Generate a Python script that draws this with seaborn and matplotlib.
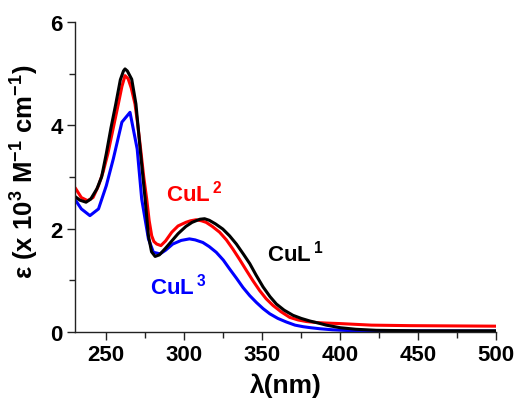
import numpy as np
import pandas as pd
import matplotlib
matplotlib.use("Agg")
import matplotlib.pyplot as plt
import seaborn as sns
from matplotlib.ticker import MultipleLocator

# ── Data ───────────────────────────────────────────────────────────────────
wl_cul1 = [230, 233, 237, 240, 244, 247, 250, 253, 256, 259, 261, 262, 263.5, 266.3,
           269, 271.7, 274.9, 277, 279, 281.3, 284, 288, 292, 296, 301, 305, 310,
           313, 316, 320, 324.7, 329, 333.4, 338, 342, 346, 350.5, 355, 359, 364,
           369.7, 375, 380.5, 386, 391, 400, 410, 423, 450, 500]
eps_cul1 = [2.62, 2.55, 2.51, 2.57, 2.77, 3.00, 3.45, 3.95, 4.40, 4.88, 5.05, 5.09,
            5.05, 4.89, 4.41, 3.54, 2.57, 1.86, 1.55, 1.46, 1.49, 1.62, 1.76, 1.90,
            2.04, 2.12, 2.18, 2.19, 2.16, 2.09, 1.99, 1.86, 1.70, 1.50, 1.32, 1.10,
            0.87, 0.68, 0.54, 0.42, 0.32, 0.26, 0.21, 0.17, 0.13, 0.08, 0.05, 0.03,
            0.02, 0.02]

wl_cul2 = [230, 234, 238, 241.5, 245, 248, 251, 254, 257.7, 260, 262, 264, 266,
           268.4, 270, 272, 274, 275.9, 277.5, 279.1, 280.5, 282.3, 285, 288, 292,
           296, 301, 304, 307.6, 311, 314, 318, 322.6, 327, 331.2, 335.5, 339.8,
           344, 348.3, 352.5, 356.9, 362, 367.6, 373, 378.3, 385, 391, 400, 420,
           445, 500]
eps_cul2 = [2.79, 2.60, 2.54, 2.60, 2.83, 3.10, 3.45, 3.88, 4.41, 4.75, 4.96, 4.90,
            4.72, 4.41, 4.05, 3.54, 3.00, 2.57, 2.15, 1.86, 1.75, 1.70, 1.67, 1.76,
            1.93, 2.05, 2.12, 2.15, 2.17, 2.15, 2.12, 2.04, 1.93, 1.78, 1.60, 1.40,
            1.19, 0.99, 0.80, 0.64, 0.51, 0.39, 0.28, 0.23, 0.20, 0.18, 0.17, 0.16,
            0.13, 0.12, 0.11]

wl_cul3 = [230, 234, 239.5, 245, 250, 254.5, 260, 265.2, 269.8, 272.7, 277, 280.2,
           284.5, 288, 292.6, 298, 303.3, 307, 311.9, 316, 320.5, 325, 329, 333.4,
           337.6, 342, 346.2, 350.5, 354.8, 360, 365.5, 371, 376.2, 381, 387, 395,
           405, 430, 500]
eps_cul3 = [2.56, 2.38, 2.25, 2.38, 2.83, 3.35, 4.06, 4.25, 3.54, 2.57, 1.80, 1.54,
            1.51, 1.58, 1.70, 1.77, 1.80, 1.78, 1.73, 1.65, 1.54, 1.39, 1.22, 1.04,
            0.86, 0.70, 0.57, 0.45, 0.35, 0.26, 0.19, 0.13, 0.10, 0.08, 0.06, 0.04,
            0.025, 0.02, 0.015]

names = ["CuL1", "CuL2", "CuL3"]
colors = {"CuL1": "#000000", "CuL2": "#ff0000", "CuL3": "#0000ff"}

df = pd.concat([
    pd.DataFrame({"wl": wl_cul1, "eps": eps_cul1, "complex": "CuL1"}),
    pd.DataFrame({"wl": wl_cul2, "eps": eps_cul2, "complex": "CuL2"}),
    pd.DataFrame({"wl": wl_cul3, "eps": eps_cul3, "complex": "CuL3"}),
])

# ── Style ──────────────────────────────────────────────────────────────────
sns.set_style("ticks")
plt.rcParams["font.family"] = ["Liberation Sans", "DejaVu Sans"]
plt.rcParams["font.weight"] = "bold"
plt.rcParams["text.color"] = "black"
plt.rcParams["axes.labelcolor"] = "black"
plt.rcParams["xtick.labelcolor"] = "black"
plt.rcParams["ytick.labelcolor"] = "black"
plt.rcParams["mathtext.fontset"] = "custom"
plt.rcParams["mathtext.rm"] = "Liberation Sans:bold"
plt.rcParams["mathtext.bf"] = "Liberation Sans:bold"
plt.rcParams["mathtext.default"] = "bf"

fig, ax = plt.subplots(figsize=(5.18, 4.02), dpi=100)
fig.subplots_adjust(left=0.145, right=0.958, top=0.943, bottom=0.172)

sns.lineplot(data=df, x="wl", y="eps", hue="complex", hue_order=names[::-1],
             palette=colors, estimator=None, sort=False, linewidth=2.2,
             legend=False, ax=ax)
for ln in ax.lines:
    ln.set_solid_joinstyle("round")

ax.set_xlim(230, 500)
ax.set_ylim(0, 6)
ax.xaxis.set_major_locator(MultipleLocator(50))
ax.xaxis.set_minor_locator(MultipleLocator(25))
ax.yaxis.set_major_locator(MultipleLocator(2))
ax.yaxis.set_minor_locator(MultipleLocator(1))
ax.tick_params(which="major", direction="out", length=6, width=1, labelsize=16, pad=3, color="#222222")
ax.tick_params(which="minor", direction="out", length=4, width=1, color="#222222")
for lbl in ax.get_xticklabels() + ax.get_yticklabels():
    lbl.set_fontweight("bold")

sns.despine(ax=ax)
for s in ("left", "bottom"):
    ax.spines[s].set_color("#222222")
    ax.spines[s].set_linewidth(1)

ax.set_xlabel("λ(nm)", fontsize=19, fontweight="bold", labelpad=5)
ax.set_ylabel("ε (x 10$^{3}$ M$^{-1}$ cm$^{-1}$)", fontsize=18.5, fontweight="bold")
ax.yaxis.set_label_coords(-0.08, 0.52)

# curve labels
ax.text(288, 2.55, "CuL$^{\\,2}$", color="#ff0000", fontsize=16, fontweight="bold", ha="left", va="baseline")
ax.text(352.8, 1.39, "CuL$^{\\,1}$", color="#000000", fontsize=16, fontweight="bold", ha="left", va="baseline")
ax.text(278.3, 0.735, "CuL$^{\\,3}$", color="#0000ff", fontsize=16, fontweight="bold", ha="left", va="baseline")

plt.savefig("out.png", dpi=100)
